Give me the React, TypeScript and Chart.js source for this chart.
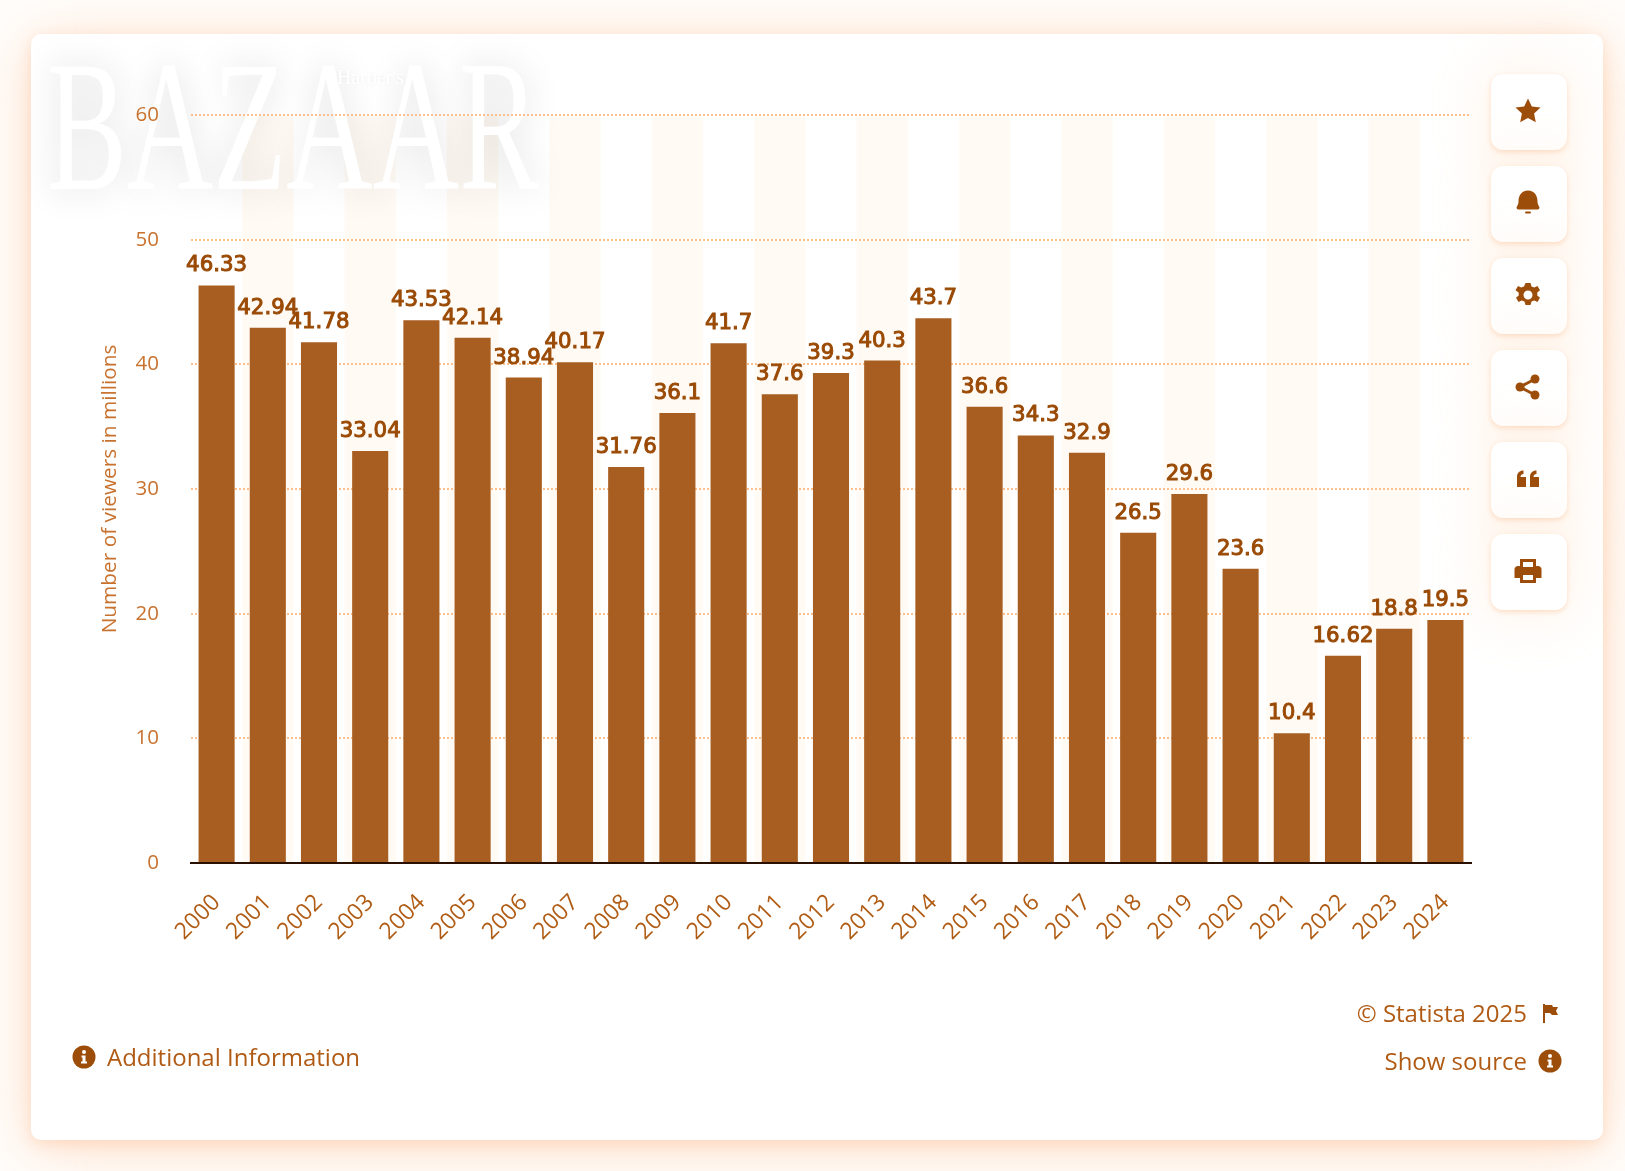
import { useEffect, useRef } from "react"
import { Chart, registerables } from "chart.js"

Chart.register(...registerables)

const years = ["2000", "2001", "2002", "2003", "2004", "2005", "2006", "2007", "2008", "2009", "2010", "2011", "2012", "2013", "2014", "2015", "2016", "2017", "2018", "2019", "2020", "2021", "2022", "2023", "2024"]
const viewers = [46.33, 42.94, 41.78, 33.04, 43.53, 42.14, 38.94, 40.17, 31.76, 36.1, 41.7, 37.6, 39.3, 40.3, 43.7, 36.6, 34.3, 32.9, 26.5, 29.6, 23.6, 10.4, 16.62, 18.8, 19.5]

const FONT = '"Open Sans", sans-serif'
const BROWN = "#9c4d0a"

// plot bands and the faded logo go under the grid
const backdropPlugin = {
  id: "backdrop",
  beforeDraw(chart: any) {
    const { ctx, scales } = chart
    const x = scales.x
    const y = scales.y
    const step = x.width / years.length
    ctx.save()
    ctx.fillStyle = "#fffaf4"
    years.forEach((_, i) => {
      if (i % 2 === 0) return
      ctx.fillRect(x.getPixelForValue(i) - step / 2, y.getPixelForValue(59.9), step, y.bottom - y.getPixelForValue(59.9))
    })
    ctx.restore()

    ctx.save()
    ctx.fillStyle = "#ffffff"
    ctx.shadowColor = "rgba(0,0,0,0.15)"
    ctx.shadowBlur = 36
    ctx.save()
    ctx.translate(47, 189)
    ctx.scale(0.64, 1)
    ctx.font = '187px "Liberation Serif"'
    ctx.fillText("BAZAAR", 0, 0)
    ctx.restore()
    ctx.shadowBlur = 4
    ctx.shadowColor = "rgba(0,0,0,0.08)"
    ctx.font = '20px "Liberation Serif"'
    ctx.fillText("Harper's", 337, 84)
    ctx.restore()
  },
}

// value labels above the bars
const valueLabels = {
  id: "valueLabels",
  afterDatasetsDraw(chart: any) {
    const { ctx } = chart
    const bars = chart.getDatasetMeta(0).data
    ctx.save()
    ctx.font = '21.3px "DejaVu Sans"'
    ctx.fillStyle = "#9a4a05"
    ctx.strokeStyle = "#9a4a05"
    ctx.lineWidth = 1
    ctx.textAlign = "center"
    ctx.textBaseline = "alphabetic"
    bars.forEach((bar: any, i: number) => {
      ctx.fillText(String(viewers[i]), bar.x, bar.y - 14)
      ctx.strokeText(String(viewers[i]), bar.x, bar.y - 14)
    })
    ctx.restore()
  },
}

function InfoIcon({ x, y }: { x: number; y: number }) {
  return (
    <svg style={{ position: "absolute", left: x - 12, top: y - 12 }} width="24" height="24" viewBox="0 0 24 24">
      <circle cx="12" cy="12" r="11.5" fill={BROWN} />
      <circle cx="12" cy="7" r="2" fill="#fff" />
      <path d="M9.5 10.5h4v6h1.5v2h-6v-2h1.5v-4h-1z" fill="#fff" />
    </svg>
  )
}

function ToolButton({ top, children }: { top: number; children: any }) {
  return (
    <div
      style={{
        position: "absolute",
        left: 1491,
        top,
        width: 76,
        height: 76,
        borderRadius: 12,
        background: "#fff",
        boxShadow: "0 2px 5px rgba(250,170,110,0.35), 0 0 50px 14px rgba(253,200,150,0.16)",
      }}
    >
      <svg style={{ position: "absolute", left: 21, top: 21 }} width="32" height="32" viewBox="0 0 32 32" fill={BROWN}>
        {children}
      </svg>
    </div>
  )
}

function Text({ children, style }: { children: string; style: any }) {
  return (
    <div style={{ position: "absolute", font: `24px ${FONT}`, color: "#b05a14", lineHeight: "32px", whiteSpace: "nowrap", ...style }}>
      {children}
    </div>
  )
}

export default function App() {
  const chartRef = useRef<HTMLCanvasElement>(null)

  useEffect(() => {
    if (!chartRef.current) return
    const chart = new Chart(chartRef.current, {
      type: "bar",
      data: {
        labels: years,
        datasets: [
          {
            data: viewers,
            backgroundColor: "#a85e20",
            barPercentage: 0.705,
            categoryPercentage: 1,
          },
        ],
      },
      options: {
        responsive: false,
        animation: false,
        devicePixelRatio: 1,
        layout: { padding: { top: 115, right: 154, left: 0, bottom: 0 } },
        plugins: { legend: { display: false }, tooltip: { enabled: false } },
        scales: {
          x: {
            afterFit: (scale: any) => {
              scale.height = 308
            },
            grid: { display: false },
            border: { display: true, color: "#2a1000", width: 2 },
            ticks: {
              autoSkip: false,
              minRotation: 45,
              maxRotation: 45,
              padding: 18,
              color: "#b05c15",
              font: { family: FONT, size: 23 },
            },
          },
          y: {
            min: 0,
            max: 60,
            afterFit: (scale: any) => {
              scale.width = 191
            },
            border: { display: false, dash: [2, 2] },
            grid: {
              drawTicks: false,
              lineWidth: 2,
              color: (c: any) => (c.tick.value === 0 ? "transparent" : "#fdc08c"),
            },
            ticks: {
              stepSize: 10,
              padding: 32,
              color: "#c8722f",
              font: { family: FONT, size: 20.5 },
            },
            title: {
              display: true,
              text: "Number of viewers in millions",
              color: "#c8722f",
              font: { family: FONT, size: 20.8 },
              padding: { top: 98, bottom: 0 },
            },
          },
        },
      },
      plugins: [backdropPlugin, valueLabels],
    })
    return () => chart.destroy()
  }, [])

  return (
    <div style={{ position: "absolute", left: 0, top: 0, width: 1625, height: 1171, overflow: "hidden", background: "#fffdfb" }}>
      <div
        style={{
          position: "absolute",
          left: 31,
          top: 34,
          width: 1572,
          height: 1106,
          borderRadius: 10,
          background: "#fff",
          boxShadow: "0 4px 14px rgba(250,170,110,0.28), 0 8px 60px rgba(250,170,110,0.36)",
        }}
      />
      <ToolButton top={74}>
        <path d="M16 3.500l3.800 8 8.700 1.100-6.400 6 1.700 8.600-7.800-4.300-7.800 4.300 1.700-8.600-6.400-6 8.700-1.100z" />
      </ToolButton>
      <ToolButton top={166}>
        <path d="M16 3.500c6.500 0 9.500 5 9.500 11 0 3 1.200 4 1.800 5.500.4 1.500-.5 2.500-2 2.500H6.700c-1.500 0-2.400-1-2-2.500.6-1.500 1.800-2.500 1.800-5.500 0-6 3-11 9.500-11z" />
        <rect x="13" y="24.500" width="6" height="2" rx="1" />
      </ToolButton>
      <ToolButton top={258}>
        <path fillRule="evenodd" d="M13.500 4h5l1 3.400 2.800 1.200 3.200-1.700 2.500 4.300-2.700 2.300v3l2.700 2.300-2.500 4.300-3.200-1.700-2.800 1.200-1 3.400h-5l-1-3.400-2.800-1.200-3.200 1.700-2.500-4.300 2.700-2.300v-3L3.500 11.200 6 6.900l3.200 1.700 2.800-1.200zM16 11.500a4.500 4.500 0 1 0 0 9 4.500 4.500 0 0 0 0-9z" />
      </ToolButton>
      <ToolButton top={350}>
        <circle cx="8" cy="16" r="4.500" />
        <circle cx="23" cy="8" r="4.500" />
        <circle cx="23" cy="24" r="4.500" />
        <path d="M8 16L23 8M8 16l15 8" stroke={BROWN} strokeWidth="3" />
      </ToolButton>
      <ToolButton top={442}>
        <path d="M5 24V14c0-4 2.500-6.500 6.500-6.500v3.500c-1.800 0-3 1-3 3H14v10zM18 24V14c0-4 2.500-6.500 6.500-6.500v3.500c-1.800 0-3 1-3 3H27v10z" />
      </ToolButton>
      <ToolButton top={534}>
        <path fillRule="evenodd" d="M8 4h16v7h2c2 0 3.500 1.500 3.500 3v9H24v5H8v-5H2.500v-9c0-1.500 1.500-3 3.500-3h2zm3 3v5h10V7zm0 13v5h10v-5z" />
      </ToolButton>
      <canvas ref={chartRef} width={1625} height={1171} style={{ position: "absolute", left: 0, top: 0 }} />
      <InfoIcon x={84} y={1057} />
      <Text style={{ left: 107, top: 1041 }}>Additional Information</Text>
      <Text style={{ right: 98, top: 997 }}>© Statista 2025</Text>
      <Text style={{ right: 98, top: 1045 }}>Show source</Text>
      <svg style={{ position: "absolute", left: 1541, top: 1003 }} width="18" height="20" viewBox="0 0 18 20" fill={BROWN}>
        <path d="M2 1h2v19H2zM4 2h7l1 2h5l-2 4 2 4h-6l-2-2H4z" />
      </svg>
      <InfoIcon x={1550} y={1061} />
    </div>
  )
}
